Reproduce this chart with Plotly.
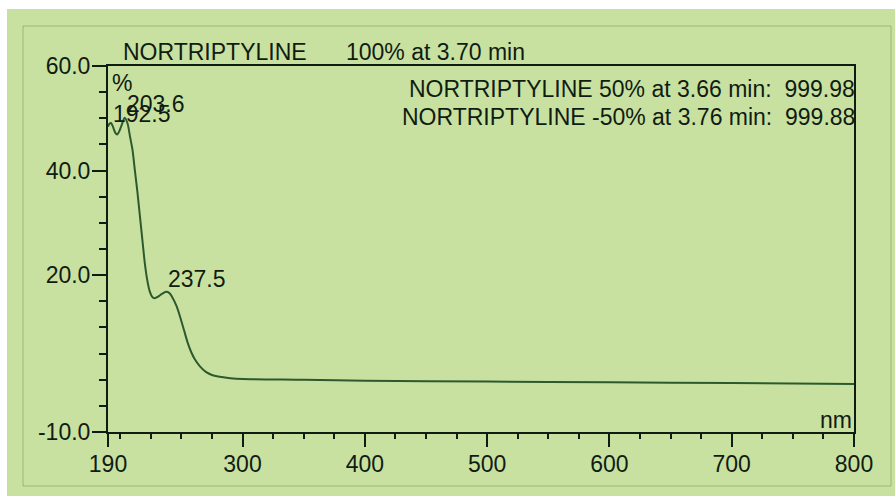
import plotly.graph_objects as go

# ---- data ----
wavelength_nm = [190, 191, 192.5, 194, 196, 197.5, 199, 201, 203.6, 206, 208, 210, 212, 214,
                 216, 218, 220, 222, 224, 226, 228, 231, 234, 237.5, 240, 243, 246, 249,
                 252, 255, 258, 261, 265, 270, 275, 280, 290, 300, 350, 400, 500, 600, 700, 800]
absorbance_pct = [48.4, 48.9, 49.1, 48.4, 47.2, 46.9, 47.4, 48.6, 50.1, 49.0, 46.5, 44.0, 40.0, 36.0,
                  31.5, 27.0, 22.5, 19.2, 17.0, 15.9, 15.6, 15.9, 16.4, 16.8, 16.6, 15.6, 14.1, 12.0,
                  9.6, 7.2, 5.3, 3.9, 2.6, 1.5, 0.9, 0.6, 0.3, 0.15, 0.0, -0.2, -0.35, -0.5, -0.65, -0.8]

peak_nm = [192.5, 203.6, 237.5]
peak_val = [49.1, 50.1, 16.8]
peak_labels = ["192.5", "203.6", "237.5"]

x_tickvals = [190, 300, 400, 500, 600, 700, 800]
y_tickvals = [-10, 20, 40, 60]

title_name = "NORTRIPTYLINE"
title_info = "100% at 3.70 min"
purity_lines = ["NORTRIPTYLINE 50% at 3.66 min:\u00a0\u00a0999.98",
                "NORTRIPTYLINE -50% at 3.76 min:\u00a0\u00a0999.88"]

# ---- layout geometry (pixels) ----
W, H = 895, 496
L, R, T, B = 108, 854, 66, 432
PW, PH = R - L, B - T


def px(x):
    return (x - L) / PW


def py(y):
    return (B - y) / PH


BG = "#c9e1a0"
INK = "#101c12"
LINE = "#2c5a2e"
FONT = "Liberation Sans, Arial, sans-serif"
FS = 23

fig = go.Figure()
fig.add_trace(go.Scatter(
    x=wavelength_nm, y=absorbance_pct, mode="lines",
    line=dict(color=LINE, width=2, shape="spline", smoothing=0.7),
    hoverinfo="skip", showlegend=False,
))

shapes = [
    # green page
    dict(type="rect", xref="paper", yref="paper", x0=px(7), x1=px(896), y0=py(497), y1=py(9),
         fillcolor=BG, line=dict(width=0), layer="below"),
    # faint outer frame
    dict(type="rect", xref="paper", yref="paper", x0=px(23), x1=px(891), y0=py(486), y1=py(26),
         fillcolor="rgba(0,0,0,0)", line=dict(color="rgba(110,150,95,0.55)", width=1), layer="below"),
]

annotations = [
    dict(text=title_name, x=px(121), y=py(52), xref="paper", yref="paper",
         xanchor="left", yanchor="middle", showarrow=False, font=dict(size=FS, color=INK, family=FONT)),
    dict(text=title_info, x=px(344), y=py(52), xref="paper", yref="paper",
         xanchor="left", yanchor="middle", showarrow=False, font=dict(size=FS, color=INK, family=FONT)),
    dict(text=purity_lines[0], x=px(857), y=py(89), xref="paper", yref="paper",
         xanchor="right", yanchor="middle", showarrow=False, font=dict(size=FS, color=INK, family=FONT)),
    dict(text=purity_lines[1], x=px(857), y=py(117), xref="paper", yref="paper",
         xanchor="right", yanchor="middle", showarrow=False, font=dict(size=FS, color=INK, family=FONT)),
    dict(text="%", x=px(110), y=py(83), xref="paper", yref="paper",
         xanchor="left", yanchor="middle", showarrow=False, font=dict(size=FS, color=INK, family=FONT)),
    dict(text="nm", x=px(854), y=py(420), xref="paper", yref="paper",
         xanchor="right", yanchor="middle", showarrow=False, font=dict(size=FS, color=INK, family=FONT)),
]

yshifts = [9, 14, 13]
for xv, yv, lab, ys in zip(peak_nm, peak_val, peak_labels, yshifts):
    annotations.append(dict(text=lab, x=xv, y=yv, xref="x", yref="y", xanchor="left",
                            yanchor="middle", yshift=ys, xshift=0, showarrow=False,
                            font=dict(size=FS, color=INK, family=FONT)))

fig.update_layout(
    width=W, height=H,
    margin=dict(l=L, r=W - R, t=T, b=H - B, pad=0),
    paper_bgcolor="white", plot_bgcolor="rgba(0,0,0,0)",
    font=dict(family=FONT, size=FS, color=INK),
    shapes=shapes, annotations=annotations, showlegend=False,
    xaxis=dict(range=[190, 800], tickmode="array", tickvals=x_tickvals,
               ticktext=[str(v) for v in x_tickvals],
               ticks="outside", ticklen=13, tickwidth=2, tickcolor=INK,
               ticklabelstandoff=-3,
               showline=True, linecolor=INK, linewidth=2, mirror=True,
               showgrid=False, zeroline=False,
               tickfont=dict(size=FS, color=INK, family=FONT),
               minor=dict(ticks="outside", tickmode="linear", tick0=0, dtick=25,
                          ticklen=5, tickwidth=2, tickcolor=INK, showgrid=False)),
    yaxis=dict(range=[-10, 60], tickmode="array", tickvals=y_tickvals,
               ticktext=[f"{v:.1f}" for v in y_tickvals],
               ticks="outside", ticklen=14, tickwidth=2, tickcolor=INK,
               ticklabelstandoff=-3,
               showline=True, linecolor=INK, linewidth=2, mirror=True,
               showgrid=False, zeroline=False,
               tickfont=dict(size=FS, color=INK, family=FONT),
               minor=dict(ticks="outside", tickmode="linear", tick0=0, dtick=5,
                          ticklen=7, tickwidth=2, tickcolor=INK, showgrid=False)),
)

fig.write_html("out.html")
